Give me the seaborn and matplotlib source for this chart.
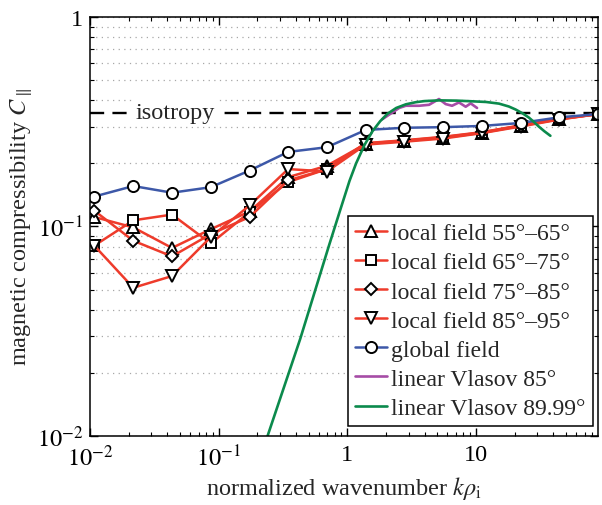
import matplotlib
matplotlib.use("Agg")
import matplotlib.pyplot as plt
import matplotlib.ticker as mticker
import seaborn as sns

# wavenumber bins k*rho_i
k_rho = [0.0108, 0.0217, 0.0434, 0.0868, 0.174, 0.347, 0.694, 1.39, 2.78, 5.56, 11.1, 22.2, 44.4, 88.9]

# local field, angle bins
c_55_65 = [0.111, 0.099, 0.079, 0.097, 0.118, 0.172, 0.195, 0.248, 0.256, 0.265, 0.280, 0.302, 0.325, 0.344]
c_65_75 = [0.081, 0.107, 0.114, 0.083, 0.117, 0.163, 0.188, 0.249, 0.257, 0.267, 0.281, 0.303, 0.326, 0.344]
c_75_85 = [0.119, 0.0855, 0.072, 0.092, 0.111, 0.166, 0.188, 0.250, 0.258, 0.268, 0.282, 0.304, 0.327, 0.344]
c_85_95 = [0.081, 0.051, 0.058, 0.089, 0.126, 0.188, 0.183, 0.246, 0.254, 0.263, 0.279, 0.300, 0.324, 0.344]
# global field
c_global = [0.139, 0.156, 0.145, 0.154, 0.185, 0.227, 0.239, 0.289, 0.296, 0.298, 0.302, 0.312, 0.332, 0.344]

# linear Vlasov curves
vl85_k = [1.87, 2.53, 2.85, 3.61, 4.32, 5.16, 5.82, 6.52, 7.38, 8.32, 9.10, 10.2]
vl85_c = [0.325, 0.368, 0.377, 0.377, 0.381, 0.406, 0.384, 0.377, 0.391, 0.373, 0.387, 0.368]
vl90_k = [0.24, 0.43, 0.72, 0.87, 1.04, 1.17, 1.36, 1.57, 1.8, 2.05, 2.4, 2.85, 3.4, 4.0, 5.2,
          7.0, 9.3, 12.0, 15.1, 18.0, 20.3, 23.0, 25.8, 28.0, 30.8, 34.0, 37.9]
vl90_c = [0.010, 0.029, 0.081, 0.117, 0.165, 0.200, 0.245, 0.285, 0.318, 0.345, 0.368, 0.383, 0.392,
          0.397, 0.400, 0.399, 0.396, 0.393, 0.386, 0.374, 0.362, 0.347, 0.331, 0.317, 0.300, 0.285, 0.271]

isotropy = 0.35

sns.set_theme(style="ticks")
plt.rcParams["font.family"] = ["Liberation Serif", "DejaVu Serif"]
plt.rcParams["mathtext.fontset"] = "stix"
fs = 17.5

fig = plt.figure(figsize=(6.02, 5.06), dpi=100)
ax = fig.add_axes([0.1495, 0.1364, 0.8439, 0.828])
ax.set_xscale("log")
ax.set_yscale("log")

red = "#ee3b2b"
blue = "#3d58a8"
mk = dict(markersize=8, markerfacecolor="white", markeredgecolor="black", mew=1.4, lw=1.8)

sns.lineplot(x=k_rho, y=c_55_65, ax=ax, color=red, marker="^", label="local field 55°–65°", **mk)
sns.lineplot(x=k_rho, y=c_65_75, ax=ax, color=red, marker="s", label="local field 65°–75°", **{**mk, "markersize": 6.5})
sns.lineplot(x=k_rho, y=c_75_85, ax=ax, color=red, marker="D", label="local field 75°–85°", **{**mk, "markersize": 6})
sns.lineplot(x=k_rho, y=c_85_95, ax=ax, color=red, marker="v", label="local field 85°–95°", **mk)
sns.lineplot(x=k_rho, y=c_global, ax=ax, color=blue, marker="o", label="global field", **mk)
sns.lineplot(x=vl85_k, y=vl85_c, ax=ax, color="#a64ca6", lw=1.9, label="linear Vlasov 85°")
sns.lineplot(x=vl90_k, y=vl90_c, ax=ax, color="#0b8a4c", lw=1.9, label="linear Vlasov 89.99°")

ax.axhline(isotropy, color="black", lw=1.7, dashes=(6, 3.5), zorder=1)
ax.text(0.046, isotropy, "isotropy", fontsize=fs, ha="center", va="center",
        bbox=dict(facecolor="white", edgecolor="none", pad=2), zorder=2)

ax.set_xlim(0.01, k_rho[-1])
ax.set_ylim(0.01, 1)

ax.set_xticks([0.01, 0.1, 1, 10])
ax.set_xticklabels([r"$10^{-2}$", r"$10^{-1}$", "1", "10"])
ax.set_yticks([0.01, 0.1, 1])
ax.set_yticklabels([r"$10^{-2}$", r"$10^{-1}$", "1"])
ax.xaxis.set_minor_formatter(mticker.NullFormatter())
ax.yaxis.set_minor_formatter(mticker.NullFormatter())
ax.tick_params(which="both", direction="in", top=True, right=True, labelsize=fs, colors="black")
ax.tick_params(which="major", length=6, width=1)
ax.tick_params(which="minor", length=3, width=0.8)
ax.tick_params(axis="x", which="major", pad=6)
ax.tick_params(axis="y", which="major", pad=5)

ax.yaxis.grid(True, which="both", color="#a8a8a8", lw=0.9, dashes=(1, 3.5))
ax.set_axisbelow(True)
for sp in ax.spines.values():
    sp.set_color("black")
    sp.set_linewidth(1.1)

ax.set_xlabel(r"normalized wavenumber $k\rho_\mathrm{i}$", fontsize=fs, labelpad=3)
ax.set_ylabel(r"magnetic compressibility $C_\parallel$", fontsize=fs, labelpad=2)

leg = ax.legend(loc="lower right", bbox_to_anchor=(0.990, 0.024), borderaxespad=0,
                fontsize=17, frameon=True, fancybox=False, framealpha=1, edgecolor="black",
                handlelength=1.35, handletextpad=0.2, labelspacing=0.32, borderpad=0.3)
leg.get_frame().set_linewidth(1.1)

fig.savefig("out.png", dpi=100)
